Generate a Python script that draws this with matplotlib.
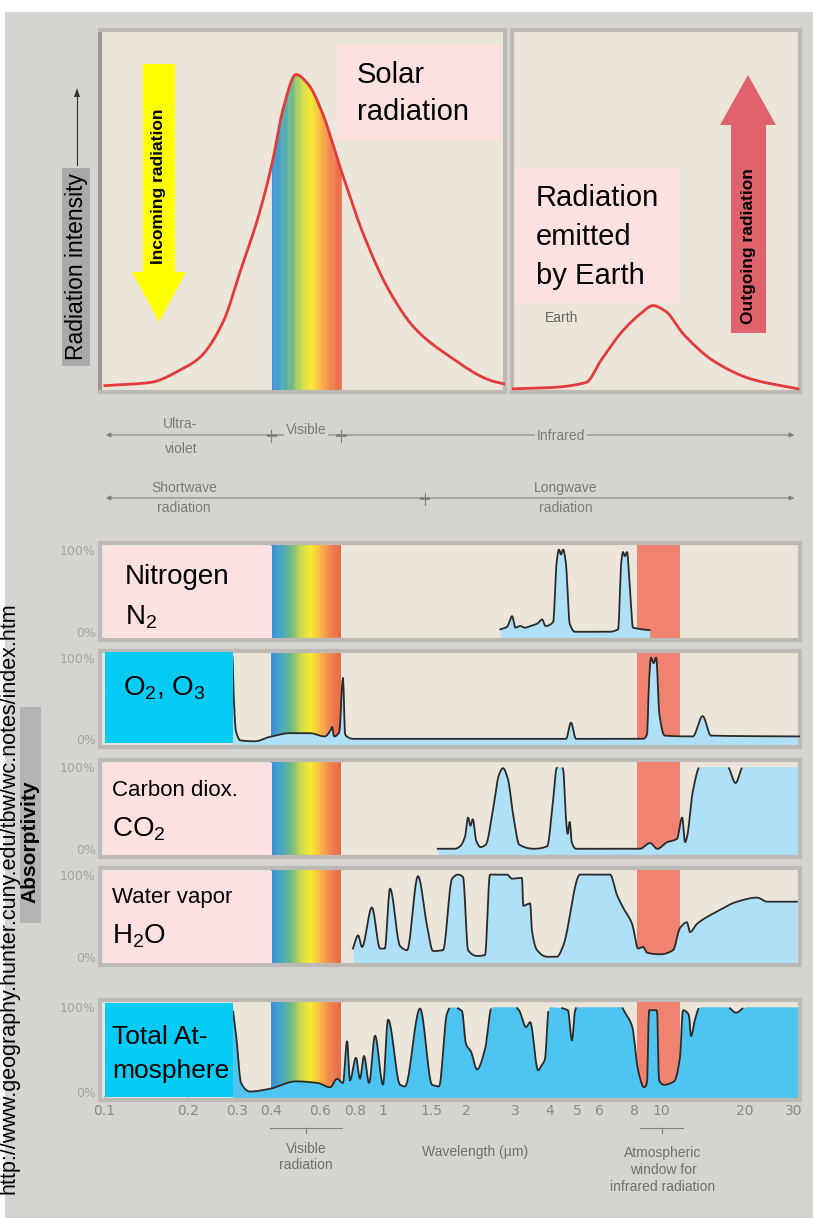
import numpy as np
import matplotlib.pyplot as plt
from matplotlib.colors import LinearSegmentedColormap
from matplotlib.patches import Rectangle, Polygon
from matplotlib.lines import Line2D

# ---- data (wavelength in micrometres, value 0..1) ----
solar_wl = [0.101, 0.147, 0.189, 0.222, 0.268, 0.309, 0.361, 0.402, 0.44, 0.49,
            0.541, 0.602, 0.716, 0.852, 1.056, 1.309, 1.69, 2.47, 2.75]
solar_val = [0.02, 0.03, 0.07, 0.11, 0.22, 0.38, 0.56, 0.72, 0.89, 1.0,
             0.97, 0.89, 0.69, 0.50, 0.32, 0.20, 0.12, 0.035, 0.025]

earth_wl = [2.94, 3.83, 5.38, 6.09, 7.24, 8.4, 9.35, 10.35, 12.09, 15.6, 21.2, 31.0]
earth_val = [0.01, 0.013, 0.03, 0.10, 0.19, 0.245, 0.272, 0.255, 0.18, 0.095, 0.04, 0.01]

n2_wl = [2.65, 2.8, 2.92, 3.0, 3.12, 3.25, 3.4, 3.6, 3.74, 3.85, 4.1, 4.22, 4.3, 4.37,
         4.45, 4.55, 4.7, 4.91, 5.5, 6.5, 7.01, 7.2, 7.3, 7.42, 7.55, 7.7, 7.93, 8.2, 8.5, 9.1]
n2_val = [0.03, 0.06, 0.19, 0.05, 0.07, 0.05, 0.07, 0.1, 0.15, 0.07, 0.12, 0.85, 1.0, 0.94,
          1.0, 0.85, 0.1, 0.0, 0.0, 0.0, 0.03, 0.85, 0.97, 0.92, 0.97, 0.6, 0.05, 0.04, 0.03, 0.02]

o2_wl = [0.29, 0.293, 0.298, 0.31, 0.35, 0.39, 0.466, 0.55, 0.62, 0.655, 0.66, 0.67, 0.70,
         0.722, 0.735, 0.79, 4.3, 4.56, 4.75, 4.95, 8.6, 8.9, 9.05, 9.2, 9.4, 9.6, 9.86, 10.3,
         13.0, 14.1, 15.1, 31.5]
o2_val = [1.0, 0.5, 0.1, -0.02, -0.03, 0.02, 0.07, 0.07, 0.03, 0.12, 0.15, 0.03, 0.08,
          0.75, 0.05, 0.0, 0.0, 0.0, 0.2, 0.0, 0.0, 0.05, 0.7, 1.0, 0.93, 1.0, 0.3, 0.04,
          0.03, 0.28, 0.04, 0.03]

co2_wl = [1.58, 1.82, 1.9, 1.98, 2.03, 2.07, 2.11, 2.17, 2.25, 2.35, 2.5, 2.62, 2.71, 2.82,
          2.95, 3.1, 3.5, 3.9, 4.1, 4.22, 4.35, 4.45, 4.55, 4.62, 4.7, 4.78, 4.95, 8.4, 9.12,
          9.7, 10.5, 11.4, 11.9, 12.2, 12.4, 13.0, 13.8, 14.2, 17.3, 18.5, 19.7, 31.5]
co2_val = [0.0, 0.0, 0.03, 0.15, 0.38, 0.28, 0.36, 0.1, 0.02, 0.05, 0.5, 0.9, 0.98, 0.85,
           0.4, 0.05, 0.0, 0.03, 0.6, 0.98, 1.0, 0.97, 0.4, 0.18, 0.33, 0.08, 0.0, 0.0, 0.07,
           0.0, 0.08, 0.12, 0.38, 0.08, 0.15, 0.7, 1.0, 1.0, 1.0, 0.8, 1.0, 1.0]

h2o_wl = [0.784, 0.818, 0.845, 0.917, 0.981, 1.02, 1.065, 1.157, 1.226, 1.342, 1.446, 1.519,
          1.65, 1.778, 1.868, 1.947, 2.03, 2.186, 2.335, 2.432, 2.8, 2.92, 3.17, 3.2, 3.39,
          3.44, 3.59, 3.9, 4.23, 4.45, 5.12, 6.56, 6.95, 7.3, 7.87, 8.27, 8.62, 8.9, 9.91,
          11.04, 11.69, 12.38, 12.7, 13.45, 15.87, 18.73, 22.1, 23.99, 30.7]
h2o_val = [0.1, 0.26, 0.12, 0.6, 0.1, 0.1, 0.83, 0.13, 0.08, 0.98, 0.38, 0.07,
           0.08, 0.95, 1.0, 0.97, 0.08, 0.01, 0.02, 1.0, 1.0, 0.95, 0.96, 0.62, 0.65,
           0.32, 0.08, 0.0, 0.0, 0.13, 1.0, 1.0, 0.75, 0.6, 0.4, 0.1, 0.12, 0.05, 0.03,
           0.08, 0.35, 0.42, 0.3, 0.4, 0.55, 0.67, 0.72, 0.67, 0.67]

tot_wl = [0.29, 0.30, 0.311, 0.335, 0.392, 0.49, 0.588, 0.649, 0.688, 0.722, 0.747, 0.765,
          0.804, 0.831, 0.859, 0.896, 0.941, 1.005, 1.048, 1.157, 1.205, 1.365, 1.507, 1.597,
          1.705, 1.763, 1.93, 1.995, 2.08, 2.186, 2.335, 2.47, 2.99, 3.09, 3.28, 3.39, 3.62,
          3.71, 3.83, 3.96, 4.63, 4.79, 4.91, 4.99, 7.18, 7.42, 7.87, 8.27, 8.68, 8.9, 9.05,
          9.67, 9.83, 10.25, 11.13, 11.69, 11.98, 12.59, 12.8, 13.23, 13.8, 17.24, 18.57,
          20.2, 31.5]
tot_val = [1.0, 0.6, 0.1, 0.0, 0.03, 0.12, 0.1, 0.05, 0.15, 0.1, 0.6, 0.13,
           0.4, 0.15, 0.42, 0.1, 0.66, 0.08, 0.85, 0.08, 0.06, 0.98, 0.08, 0.06,
           0.92, 1.0, 0.95, 0.56, 0.47, 0.26, 0.5, 1.0, 1.0, 0.96, 0.76, 0.82, 0.25,
           0.3, 0.38, 1.0, 0.96, 0.6, 0.95, 1.0, 1.0, 0.93, 0.77, 0.25, 0.05, 0.1, 0.96,
           0.96, 0.13, 0.08, 0.12, 0.4, 0.96, 0.9, 0.65, 0.85, 1.0, 1.0, 0.93,
           1.0, 1.0]

visible = (0.4, 0.71)
window = (8.2, 11.7)
tick_vals = [0.1, 0.2, 0.3, 0.4, 0.6, 0.8, 1, 1.5, 2, 3, 4, 5, 6, 8, 10, 20, 30]
tick_labels = ['0.1', '0.2', '0.3', '0.4', '0.6', '0.8', '1', '1.5', '2', '3', '4', '5',
               '6', '8', '10', '20', '30']

# ---- colours ----
BG = '#d5d4d0'
BEIGE = '#ece5da'
FRAME = '#bdbab5'
PINK = '#fde1e1'
CYAN = '#04ccf4'
LIGHTBLUE = '#aee0f7'
TOTBLUE = '#4ec5f1'
SALMON = '#f08270'
LINE = '#2a2a2a'
rainbow = LinearSegmentedColormap.from_list(
    'vis', ['#3e8fd6', '#4aa8c2', '#70ba84', '#cfdc4c', '#f8e830', '#f8b442', '#f08352', '#ea6a48'])
SANS = ['Liberation Sans', 'DejaVu Sans']

W, H = 813, 1218
fig = plt.figure(figsize=(W / 100, H / 100), dpi=100)
fig.patch.set_facecolor('white')


def box(x0, y0, x1, y1):
    return [x0 / W, 1 - y1 / H, (x1 - x0) / W, (y1 - y0) / H]


def P(x, y):
    return (x / W, 1 - y / H)


def px2wl(x):
    return 0.097 * 10 ** ((x - 100) / 278.7)


def fig_rect(x0, y0, x1, y1, color, z=1):
    fig.add_artist(Rectangle(P(x0, y1), (x1 - x0) / W, (y1 - y0) / H,
                             transform=fig.transFigure, color=color, lw=0, zorder=z))


def fig_text(x, y, s, **kw):
    kw.setdefault('va', 'center')
    kw.setdefault('family', SANS)
    fig.text(x / W, 1 - y / H, s, **kw)


def pchip(x, y, xn):
    x = np.asarray(x, float); y = np.asarray(y, float)
    h = np.diff(x); d = np.diff(y) / h
    m = np.zeros_like(y)
    for i in range(1, len(y) - 1):
        if d[i - 1] * d[i] > 0:
            w1 = 2 * h[i] + h[i - 1]; w2 = h[i] + 2 * h[i - 1]
            m[i] = (w1 + w2) / (w1 / d[i - 1] + w2 / d[i])
    m[0] = d[0]; m[-1] = d[-1]
    idx = np.clip(np.searchsorted(x, xn) - 1, 0, len(x) - 2)
    t = (xn - x[idx]) / h[idx]
    return ((2 * t**3 - 3 * t**2 + 1) * y[idx] + (t**3 - 2 * t**2 + t) * h[idx] * m[idx]
            + (-2 * t**3 + 3 * t**2) * y[idx + 1] + (t**3 - t**2) * h[idx] * m[idx + 1])


def curve(wl, val, n=900):
    xs = np.logspace(np.log10(wl[0]), np.log10(wl[-1]), n)
    return xs, pchip(np.log10(wl), val, np.log10(xs))


def panel(x0, y0, x1, y1, ylim):
    ax = fig.add_axes(box(x0, y0, x1, y1))
    ax.set_xscale('log')
    ax.set_xlim(px2wl(x0), px2wl(x1))
    ax.set_ylim(*ylim)
    ax.set_facecolor(BEIGE)
    for s in ax.spines.values():
        s.set_color(FRAME)
        s.set_linewidth(3)
    ax.minorticks_off()
    ax.set_xticks([])
    ax.set_yticks([])
    return ax


def rainbow_band(ax, top=None):
    edges = np.logspace(np.log10(visible[0]), np.log10(visible[1]), 61)
    for i in range(60):
        a, b = edges[i], edges[i + 1] * 1.003
        c = rainbow(i / 59)
        if top is None:
            ax.axvspan(a, b, color=c, lw=0, zorder=1)
        else:
            xs = np.linspace(a, b, 4)
            ax.fill_between(xs, 0, top(xs), color=c, lw=0, zorder=1)


fig_rect(5, 12, 813, 1218, BG, z=-10)

# ---- top: emission curves ----
axs = panel(100, 30, 505, 392, (0, 1.14))
axs.spines['left'].set_color('#9c9a95')
sx, sy = curve(solar_wl, solar_val)
rainbow_band(axs, top=lambda q: pchip(np.log10(solar_wl), solar_val, np.log10(q)))
axs.plot(sx, sy, color='#e23b3b', lw=2, zorder=3)

axe = panel(512, 30, 800, 392, (0, 1.14))
ex, ey = curve(earth_wl, earth_val)
axe.plot(ex, ey, color='#e23b3b', lw=2, zorder=3)

# ---- absorptivity panels ----
YL = (-0.1, 1.08)
specs = [
    (543, 640, n2_wl, n2_val, LIGHTBLUE, False),
    (651, 747, o2_wl, o2_val, LIGHTBLUE, False),
    (760, 857, co2_wl, co2_val, LIGHTBLUE, True),
    (868, 965, h2o_wl, h2o_val, LIGHTBLUE, False),
    (1000, 1100, tot_wl, tot_val, TOTBLUE, True),
]
axes = []
for y0, y1, wl, val, fc, mask_top in specs:
    ax = panel(100, y0, 800, y1, YL)
    rainbow_band(ax)
    ax.axvspan(*window, color=SALMON, lw=0, zorder=1)
    xs, ys = curve(wl, val)
    ax.fill_between(xs, YL[0], ys, color=fc, lw=0, zorder=2)
    yl = np.where(ys > 0.985, np.nan, ys) if mask_top else ys
    ax.plot(xs, yl, color=LINE, lw=1.3, zorder=3)
    ax.set_yticks([0, 1])
    ax.set_yticklabels(['0%', '100%'], color='#a3a3a3', fontsize=9)
    ax.tick_params(axis='y', length=0, pad=3)
    axes.append(ax)

axt = axes[-1]
axt.set_xticks(tick_vals)
axt.set_xticklabels(tick_labels, color='#8a8a8a', fontsize=10)
axt.tick_params(axis='x', direction='in', length=3, color='#9ab', pad=3)
axt.minorticks_off()

# ---- label boxes ----
fig_rect(105, 546, 272, 638, PINK)
fig_rect(105, 652, 233, 743, CYAN)
fig_rect(105, 763, 272, 855, PINK)
fig_rect(105, 871, 272, 963, PINK)
fig_rect(105, 1003, 233, 1097, CYAN)
fig_rect(337, 45, 500, 140, PINK)
fig_rect(515, 168, 680, 303, PINK)

fig_text(125, 577, 'Nitrogen', fontsize=20)
fig_text(125, 617, r'N$_\mathregular{2}$', fontsize=20)
fig_text(123, 688, r'O$_\mathregular{2}$, O$_\mathregular{3}$', fontsize=20)
fig_text(112, 790, 'Carbon diox.', fontsize=16)
fig_text(112, 829, r'CO$_\mathregular{2}$', fontsize=20)
fig_text(112, 898, 'Water vapor', fontsize=16)
fig_text(112, 936, r'H$_\mathregular{2}$O', fontsize=20)
fig_text(112, 1037, 'Total At-', fontsize=19)
fig_text(112, 1071, 'mosphere', fontsize=19)
fig_text(357, 75, 'Solar', fontsize=21)
fig_text(357, 112, 'radiation', fontsize=21)
fig_text(536, 198, 'Radiation', fontsize=21)
fig_text(536, 237, 'emitted', fontsize=21)
fig_text(536, 276, 'by Earth', fontsize=21)
fig_text(545, 318, 'Earth', fontsize=10, color='#666666')

# ---- arrows ----
fig.add_artist(Polygon([P(143, 64), P(175, 64), P(175, 272), P(186, 272), P(159, 322),
                        P(132, 272), P(143, 272)], closed=True, transform=fig.transFigure,
                       color='#ffff00', lw=0, zorder=2))
fig_text(159, 186, 'Incoming radiation', rotation=90, ha='center', fontsize=12.5, weight='bold')
fig.add_artist(Polygon([P(731, 333), P(766, 333), P(766, 125), P(776, 125), P(748, 75),
                        P(720, 125), P(731, 125)], closed=True, transform=fig.transFigure,
                       color='#e0626d', lw=0, zorder=2))
fig_text(748, 246, 'Outgoing radiation', rotation=90, ha='center', fontsize=12.5, weight='bold')

fig_rect(62, 168, 90, 366, '#a9a9a9')
fig_text(76, 267, 'Radiation intensity', rotation=90, ha='center', fontsize=16.5)
fig.add_artist(Line2D([77 / W, 77 / W], [1 - 165 / H, 1 - 95 / H], transform=fig.transFigure,
                      color='#333333', lw=0.8))
fig.add_artist(Polygon([P(74, 97), P(80, 97), P(77, 88)], closed=True,
                       transform=fig.transFigure, color='#333333', lw=0))

fig_rect(20, 707, 41, 923, '#b4b4b4')
fig_text(30, 842, 'Absorptivity', rotation=90, ha='center', fontsize=15, weight='bold')
fig_text(9, 898, 'http://www.geography.hunter.cuny.edu/tbw/wc.notes/index.htm', rotation=90,
         ha='center', fontsize=15.5)

# ---- band labels between the panels ----
axm = fig.add_axes(box(100, 400, 800, 530))
axm.set_xscale('log')
axm.set_xlim(px2wl(100), px2wl(800))
axm.set_ylim(530, 400)
axm.axis('off')
GR = '#808080'
for yy in (435, 498):
    axm.annotate('', xy=(px2wl(103), yy), xytext=(px2wl(797), yy),
                 arrowprops=dict(arrowstyle='<|-|>', color=GR, lw=0.8, mutation_scale=7))
for xx, yy in ((visible[0], 435), (visible[1], 435), (1.42, 498)):
    axm.plot([xx, xx], [yy - 5, yy + 7], color=GR, lw=0.8)
    axm.plot([xx * 0.97, xx * 1.03], [yy, yy], color=GR, lw=2)
tk = dict(color='#7a7a7a', fontsize=10, ha='center', va='center', family=SANS)
axm.text(px2wl(180), 424, 'Ultra-', **tk)
axm.text(px2wl(181), 449, 'violet', **tk)
axm.text(px2wl(306), 430, 'Visible', bbox=dict(fc=BG, ec='none', pad=1), **tk)
axm.text(px2wl(561), 436, 'Infrared', bbox=dict(fc=BG, ec='none', pad=1), **tk)
axm.text(px2wl(184), 488, 'Shortwave', **tk)
axm.text(px2wl(184), 508, 'radiation', **tk)
axm.text(px2wl(566), 488, 'Longwave', **tk)
axm.text(px2wl(566), 508, 'radiation', **tk)

# ---- bottom captions ----
for xa, xb in ((270, 342), (640, 683)):
    fig.add_artist(Line2D([xa / W, xb / W], [1 - 1128 / H] * 2, transform=fig.transFigure,
                          color=GR, lw=0.8))
    xm = (xa + xb) / 2
    fig.add_artist(Line2D([xm / W, xm / W], [1 - 1128 / H, 1 - 1133 / H],
                          transform=fig.transFigure, color=GR, lw=0.8))
bt = dict(color='#707070', fontsize=10, ha='center', linespacing=1.25)
fig_text(306, 1157, 'Visible\nradiation', **bt)
fig_text(475, 1152, 'Wavelength (\u00b5m)', **bt)
fig_text(663, 1170, 'Atmospheric\nwindow for\ninfrared radiation', **bt)

fig.savefig('out.png', dpi=100, facecolor='white')
